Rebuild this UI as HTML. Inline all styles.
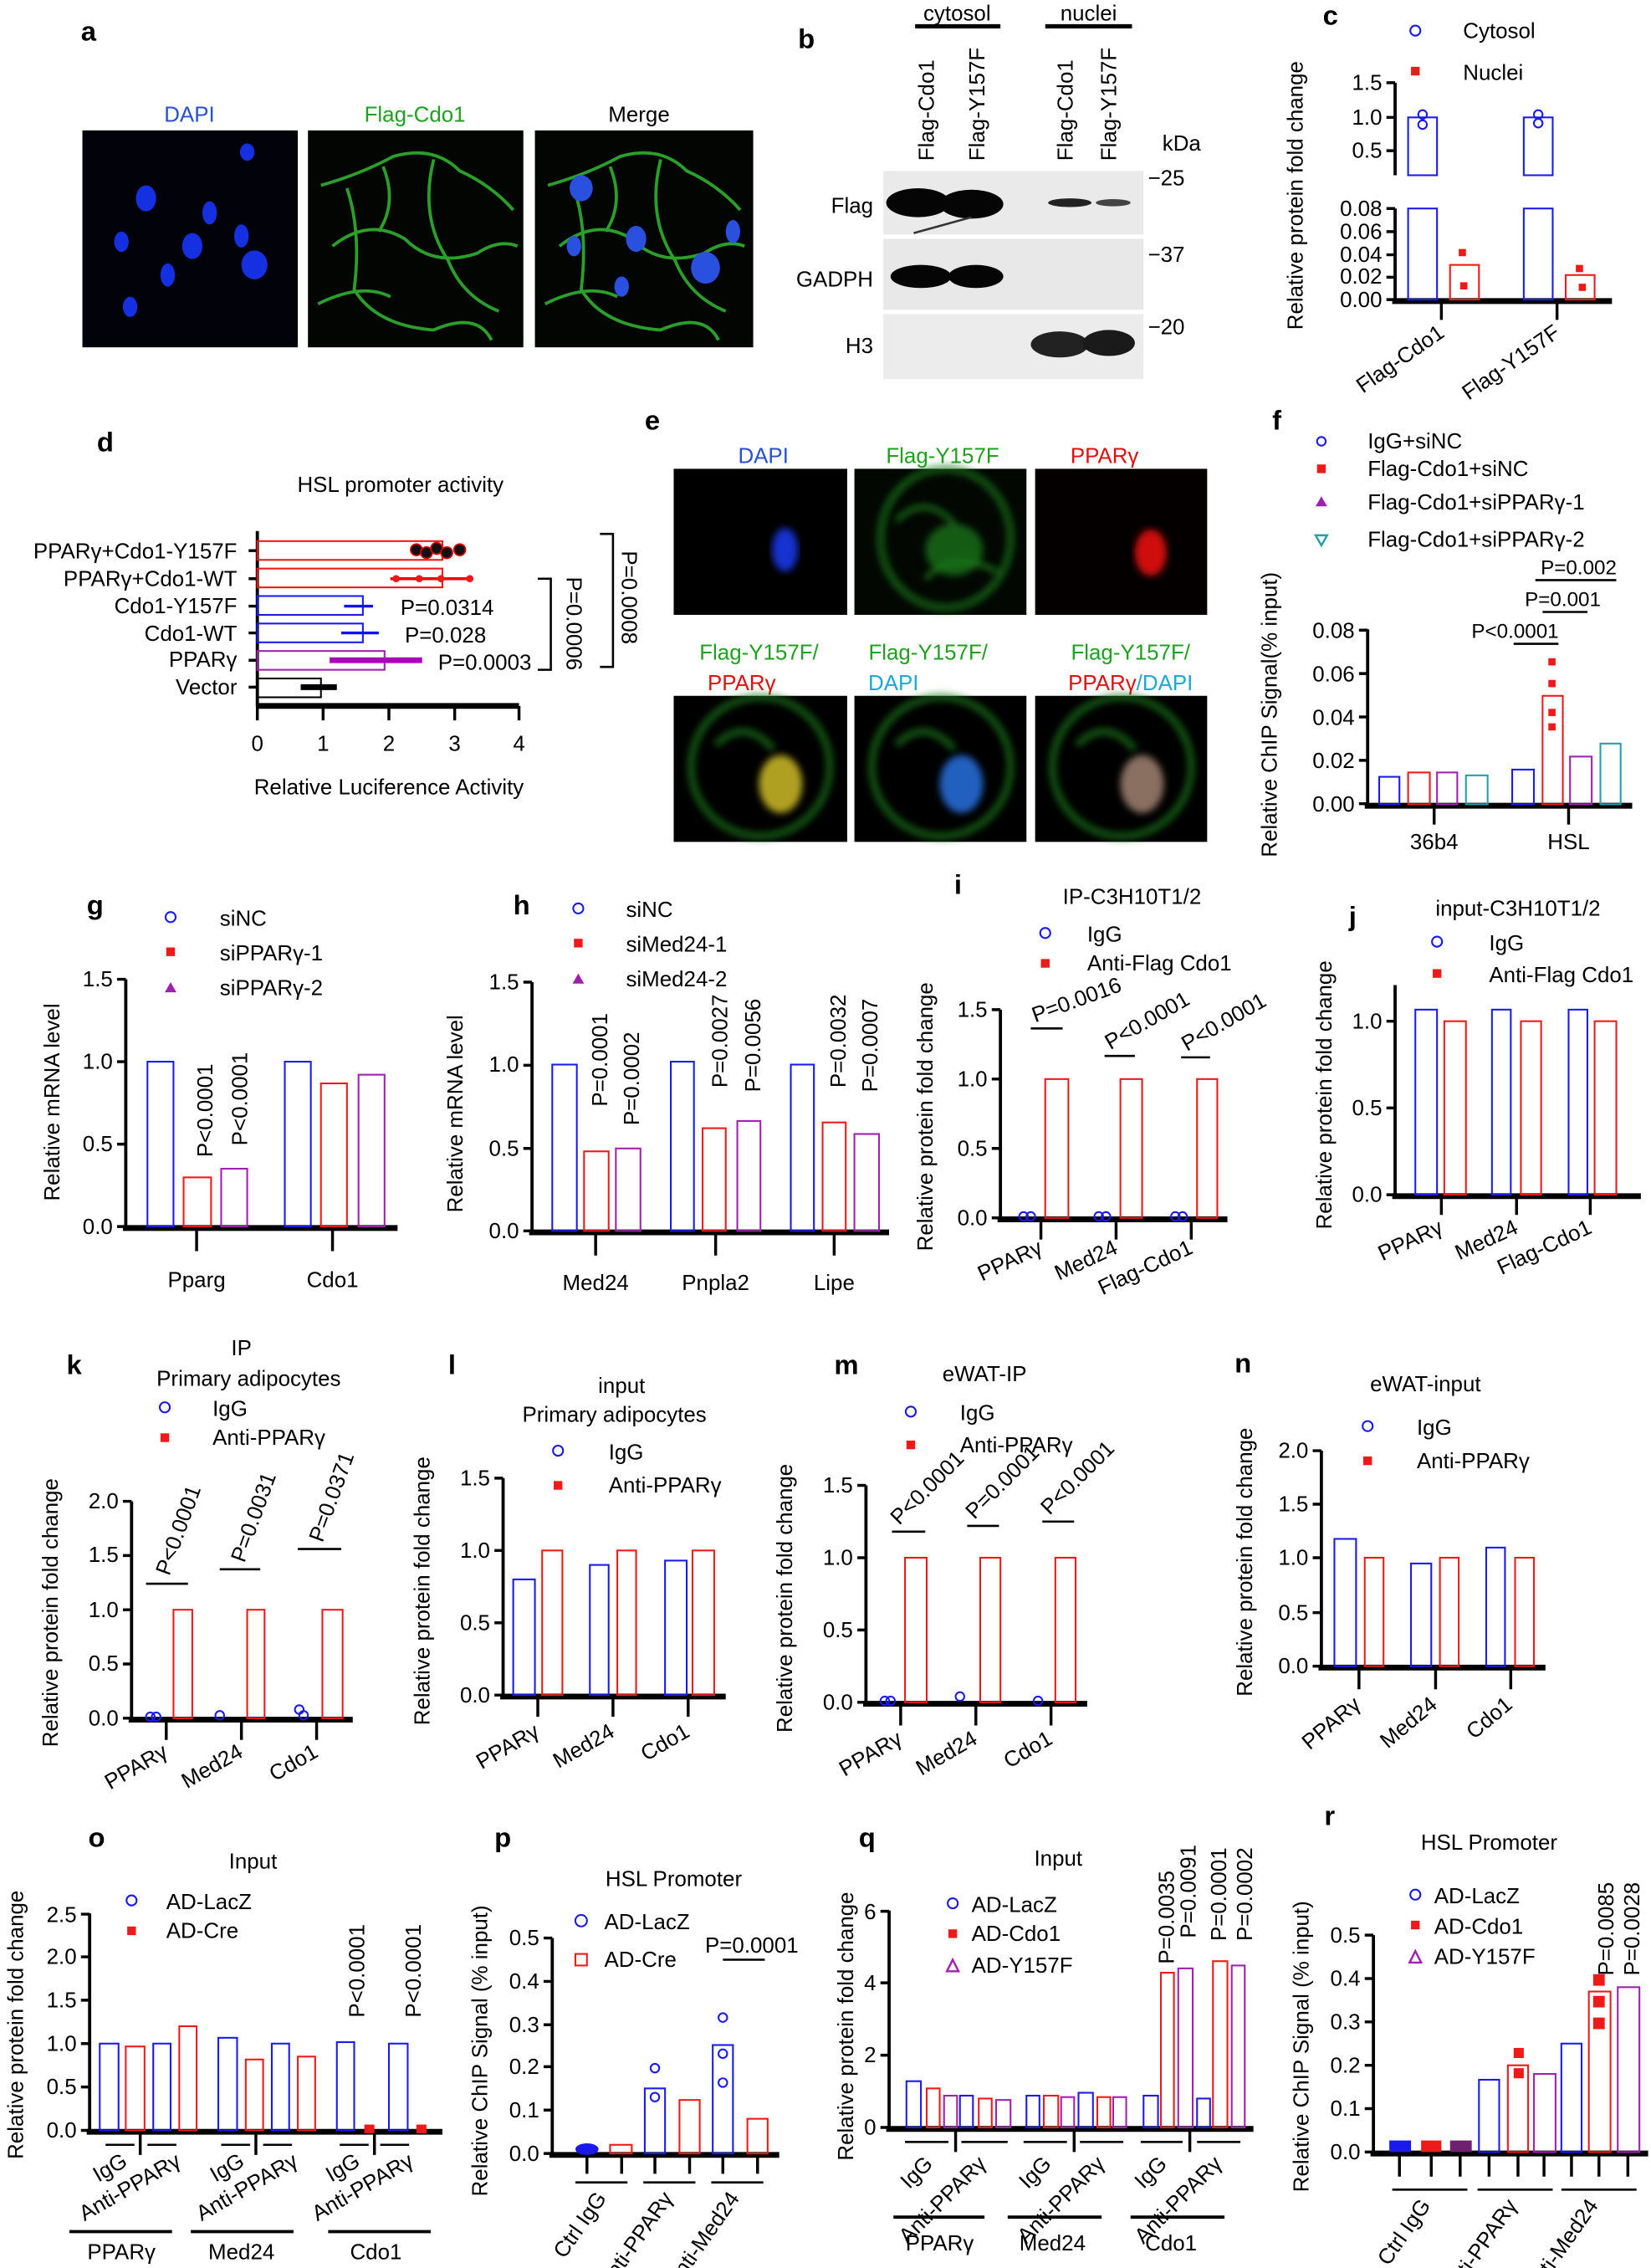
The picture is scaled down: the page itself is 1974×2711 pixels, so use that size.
<!DOCTYPE html>
<html><head><meta charset="utf-8"><style>
html,body{margin:0;padding:0;background:#fff}
svg{display:block}
text{font-family:"Liberation Sans Narrow","Liberation Sans",Arial,sans-serif;font-size:15px;fill:#000}
.L{font-weight:bold;font-size:19px;font-family:"Liberation Sans",Arial,sans-serif}
.t{font-size:14px}
.bl{fill:none;stroke:#1a1aee;stroke-width:1.2}
.rd{fill:none;stroke:#ee1a1a;stroke-width:1.2}
.pu{fill:none;stroke:#a020b0;stroke-width:1.2}
.te{fill:none;stroke:#20a0a8;stroke-width:1.2}
.bk{fill:none;stroke:#000;stroke-width:1.2}
.ax{stroke:#000;stroke-width:2.2;fill:none}
.axb{stroke:#000;stroke-width:4;fill:none}
.tk{stroke:#000;stroke-width:2}
.ln{stroke:#000;stroke-width:1.5}
.cb{fill:#1a1aee}.cr{fill:#ee1a1a}.cp{fill:#a020b0}
</style></head><body>
<svg width="1974" height="2711" viewBox="0 0 1142 1568" xmlns="http://www.w3.org/2000/svg">
<defs><filter id="bl2"><feGaussianBlur stdDeviation="2.5"/></filter></defs>

<!-- ===== a ===== -->
<text class="L" x="56" y="28">a</text>
<text x="131" y="84" text-anchor="middle" style="fill:#2850d0">DAPI</text>
<text x="287" y="84" text-anchor="middle" style="fill:#20a020">Flag-Cdo1</text>
<text x="442" y="84" text-anchor="middle">Merge</text>
<rect x="57" y="90" width="149" height="150" fill="#02020a"/>
<rect x="213" y="90" width="149" height="150" fill="#020502"/>
<rect x="370" y="90" width="151" height="150" fill="#020502"/>
<g fill="#1530e0">
<ellipse cx="101" cy="137" rx="7" ry="9"/><ellipse cx="145" cy="147" rx="5" ry="8"/><ellipse cx="133" cy="170" rx="7" ry="9"/>
<ellipse cx="84" cy="167" rx="5" ry="7"/><ellipse cx="176" cy="183" rx="9" ry="10"/><ellipse cx="116" cy="190" rx="5" ry="8"/>
<ellipse cx="171" cy="105" rx="5" ry="6"/><ellipse cx="90" cy="212" rx="5" ry="7"/><ellipse cx="167" cy="163" rx="5" ry="8"/></g>
<g stroke="#2fb02f" stroke-width="2.2" fill="none" opacity=".9">
<path d="M222 128 Q250 120 272 108 Q300 100 318 118 Q340 128 355 145"/><path d="M230 170 Q255 150 280 165 Q300 185 330 175 Q345 165 358 170"/>
<path d="M240 130 Q250 160 245 200 Q260 225 300 228 Q330 215 340 235"/><path d="M300 110 Q290 150 310 180 Q320 205 345 215"/>
<path d="M220 210 Q250 195 270 205"/><path d="M265 115 Q275 140 262 160"/></g>
<g stroke="#2fb02f" stroke-width="2.2" fill="none" opacity=".9" transform="translate(157 0)">
<path d="M222 128 Q250 120 272 108 Q300 100 318 118 Q340 128 355 145"/><path d="M230 170 Q255 150 280 165 Q300 185 330 175 Q345 165 358 170"/>
<path d="M240 130 Q250 160 245 200 Q260 225 300 228 Q330 215 340 235"/><path d="M300 110 Q290 150 310 180 Q320 205 345 215"/>
<path d="M220 210 Q250 195 270 205"/><path d="M265 115 Q275 140 262 160"/></g>
<g fill="#2a50e0"><ellipse cx="402" cy="130" rx="8" ry="9"/><ellipse cx="440" cy="165" rx="7" ry="9"/><ellipse cx="488" cy="185" rx="10" ry="11"/><ellipse cx="397" cy="170" rx="5" ry="7"/><ellipse cx="430" cy="198" rx="5" ry="7"/><ellipse cx="507" cy="160" rx="5" ry="8"/></g>

<!-- ===== b ===== -->
<text class="L" x="552" y="33">b</text>
<text x="662" y="14" text-anchor="middle">cytosol</text>
<text x="753" y="14" text-anchor="middle">nuclei</text>
<line x1="633" y1="18" x2="692" y2="18" stroke="#000" stroke-width="3"/>
<line x1="723" y1="18" x2="783" y2="18" stroke="#000" stroke-width="3"/>
<text transform="translate(646 111) rotate(-90)">Flag-Cdo1</text>
<text transform="translate(681 111) rotate(-90)">Flag-Y157F</text>
<text transform="translate(742 111) rotate(-90)">Flag-Cdo1</text>
<text transform="translate(772 111) rotate(-90)">Flag-Y157F</text>
<text x="804" y="104">kDa</text>
<rect x="611" y="118" width="180" height="44" fill="#eaeaea"/>
<rect x="611" y="165" width="180" height="49" fill="#e8e8e8"/>
<rect x="611" y="217" width="180" height="45" fill="#ececec"/>
<ellipse cx="635" cy="140" rx="22" ry="10" fill="#050505"/><ellipse cx="672" cy="141" rx="22" ry="10" fill="#050505"/>
<ellipse cx="740" cy="140" rx="15" ry="3" fill="#222"/><ellipse cx="770" cy="140" rx="12" ry="2.5" fill="#444"/>
<path d="M632 161 L672 150" stroke="#333" stroke-width="1.5"/>
<ellipse cx="637" cy="191" rx="21" ry="8" fill="#050505"/><ellipse cx="675" cy="191" rx="19" ry="8" fill="#050505"/>
<ellipse cx="733" cy="238" rx="20" ry="9" fill="#222"/><ellipse cx="767" cy="237" rx="18" ry="9" fill="#1a1a1a"/>
<text x="604" y="147" text-anchor="end">Flag</text>
<text x="604" y="198" text-anchor="end">GADPH</text>
<text x="604" y="244" text-anchor="end">H3</text>
<text x="794" y="128">−25</text><text x="794" y="181">−37</text><text x="794" y="231">−20</text>

<!-- ===== c ===== -->
<text class="L" x="915" y="17">c</text>
<circle cx="979" cy="21" r="3.5" class="bl" stroke-width="1.8"/><text x="1012" y="26">Cytosol</text>
<rect x="976" y="46" width="6" height="6" class="cr"/><text x="1012" y="55">Nuclei</text>
<text transform="translate(901 135) rotate(-90)" text-anchor="middle">Relative protein fold change</text>
<path class="ax" d="M965 57 V121 M965 144 V207"/>
<path class="tk" d="M959 57H965M959 81H965M959 104H965M959 144H965M959 160H965M959 176H965M959 191.5H965M959 207H965"/>
<g class="t" text-anchor="end"><text x="956" y="62">1.5</text><text x="956" y="86">1.0</text><text x="956" y="109">0.5</text>
<text x="956" y="149">0.08</text><text x="956" y="165">0.06</text><text x="956" y="181">0.04</text><text x="956" y="196">0.02</text><text x="956" y="212">0.00</text></g>
<line class="axb" x1="963" y1="208" x2="1115" y2="208"/>
<rect class="bl" x="974" y="81" width="20" height="40"/><rect class="bl" x="974" y="144" width="20" height="63"/>
<rect class="bl" x="1054" y="81" width="20" height="40"/><rect class="bl" x="1054" y="144" width="20" height="63"/>
<rect class="rd" x="1003" y="183" width="20" height="24"/><rect class="rd" x="1083" y="190" width="20" height="17"/>
<circle cx="984" cy="79" r="3" class="bl"/><circle cx="984" cy="86" r="3" class="bl"/><circle cx="1064" cy="79" r="3" class="bl"/><circle cx="1064" cy="85" r="3" class="bl"/>
<rect x="1009" y="172" width="5" height="5" class="cr"/><rect x="1010" y="195" width="5" height="5" class="cr"/><rect x="1090" y="183" width="5" height="5" class="cr"/><rect x="1092" y="196" width="5" height="5" class="cr"/>
<path class="tk" d="M997 208V221M1077 208V221"/>
<text transform="translate(1000 232) rotate(-35)" text-anchor="end">Flag-Cdo1</text>
<text transform="translate(1080 232) rotate(-35)" text-anchor="end">Flag-Y157F</text>

<!-- ===== d ===== -->
<text class="L" x="67" y="312">d</text>
<text x="277" y="340" text-anchor="middle">HSL promoter activity</text>
<line class="ax" x1="178" y1="367" x2="178" y2="488"/>
<g text-anchor="end"><text x="164" y="386">PPARγ+Cdo1-Y157F</text><text x="164" y="405">PPARγ+Cdo1-WT</text><text x="164" y="424">Cdo1-Y157F</text>
<text x="164" y="443">Cdo1-WT</text><text x="164" y="461">PPARγ</text><text x="164" y="480">Vector</text></g>
<path class="tk" d="M172 380.6H178M172 400H178M172 419H178M172 437.5H178M172 456.4H178M172 475H178"/>
<rect class="rd" x="178" y="374" width="128" height="13"/><rect class="rd" x="178" y="393" width="128" height="13"/>
<rect class="bl" x="178" y="412" width="73" height="13"/><rect class="bl" x="178" y="431" width="73" height="13"/>
<rect class="pu" x="178" y="450" width="88" height="13"/><rect class="bk" x="178" y="469" width="44" height="13"/>
<g fill="#111" stroke="#d00" stroke-width="1"><circle cx="288" cy="380" r="4"/><circle cx="295" cy="382" r="4"/><circle cx="302" cy="379" r="4"/><circle cx="309" cy="382" r="4"/><circle cx="318" cy="380" r="4"/></g>
<line x1="270" y1="400" x2="326" y2="400" stroke="#e00" stroke-width="2"/><g class="cr"><circle cx="274" cy="400" r="2.5"/><circle cx="290" cy="400" r="2.5"/><circle cx="305" cy="400" r="2.5"/><circle cx="325" cy="400" r="2.5"/></g>
<line x1="238" y1="419" x2="258" y2="419" stroke="#11e" stroke-width="2"/><line x1="236" y1="437.5" x2="262" y2="437.5" stroke="#11e" stroke-width="2"/>
<line x1="228" y1="456.4" x2="292" y2="456.4" stroke="#a0b" stroke-width="4"/><line x1="208" y1="475" x2="233" y2="475" stroke="#000" stroke-width="4"/>
<text x="277" y="425">P=0.0314</text><text x="280" y="444">P=0.028</text><text x="303" y="463">P=0.0003</text>
<path class="ln" fill="none" d="M372 400H381V463H372M415 369H424V461H415"/>
<text transform="translate(392 431) rotate(90)" text-anchor="middle">P=0.0006</text>
<text transform="translate(430 413) rotate(90)" text-anchor="middle">P=0.0008</text>
<line class="axb" x1="177" y1="488" x2="359" y2="488"/>
<path class="tk" d="M178 488V498M223.5 488V498M269 488V498M314.5 488V498M359 488V498"/>
<g text-anchor="middle"><text x="178" y="519">0</text><text x="223.5" y="519">1</text><text x="269" y="519">2</text><text x="314.5" y="519">3</text><text x="359" y="519">4</text></g>
<text x="269" y="549" text-anchor="middle">Relative Luciference Activity</text>

<!-- ===== e ===== -->
<text class="L" x="446" y="297">e</text>
<text x="528" y="320" text-anchor="middle" style="fill:#2850d0">DAPI</text>
<text x="652" y="320" text-anchor="middle" style="fill:#20a020">Flag-Y157F</text>
<text x="764" y="320" text-anchor="middle" style="fill:#e01010">PPARγ</text>
<rect x="466" y="324" width="120" height="101" fill="#000"/><rect x="591" y="324" width="119" height="101" fill="#020702"/><rect x="716" y="324" width="119" height="101" fill="#050000"/>
<ellipse cx="543" cy="380" rx="9" ry="15" fill="#1530d0" filter="url(#bl2)"/>
<g filter="url(#bl2)"><ellipse cx="654" cy="372" rx="45" ry="48" fill="none" stroke="#1e7a1e" stroke-width="5" opacity=".7"/><ellipse cx="660" cy="380" rx="20" ry="18" fill="#1e801e" opacity=".7"/>
<path d="M620 360 Q640 340 660 362 M640 400 Q660 380 690 395" stroke="#1e7a1e" stroke-width="3" fill="none"/></g>
<ellipse cx="796" cy="382" rx="11" ry="16" fill="#d01010" filter="url(#bl2)"/>
<text x="525" y="456" text-anchor="middle" style="fill:#20a020">Flag-Y157F/</text><text x="513" y="477" text-anchor="middle" style="fill:#e01010">PPARγ</text>
<text x="642" y="456" text-anchor="middle" style="fill:#20a020">Flag-Y157F/</text><text x="618" y="477" text-anchor="middle" style="fill:#20a8d0">DAPI</text>
<text x="782" y="456" text-anchor="middle" style="fill:#20a020">Flag-Y157F/</text><text x="782" y="477" text-anchor="middle"><tspan style="fill:#e01010">PPARγ</tspan><tspan style="fill:#20a8d0">/DAPI</tspan></text>
<rect x="466" y="481" width="120" height="101" fill="#000"/><rect x="591" y="481" width="119" height="101" fill="#000"/><rect x="716" y="481" width="119" height="101" fill="#000"/>
<g fill="none" stroke="#1e7a1e" stroke-width="5" opacity=".7" filter="url(#bl2)"><ellipse cx="526" cy="530" rx="48" ry="48"/><ellipse cx="651" cy="530" rx="48" ry="48"/><ellipse cx="776" cy="530" rx="48" ry="48"/>
<path d="M495 515 Q515 495 535 518 M620 515 Q640 495 660 518 M745 515 Q765 495 785 518"/></g>
<g filter="url(#bl2)"><ellipse cx="540" cy="542" rx="15" ry="20" fill="#b0a020"/><ellipse cx="665" cy="542" rx="15" ry="20" fill="#2060c0"/><ellipse cx="790" cy="542" rx="15" ry="20" fill="#8a7060"/></g>

<!-- ===== f ===== -->
<text class="L" x="880" y="297">f</text>
<circle cx="914" cy="305" r="3" class="bl" stroke-width="1.6"/><text x="946" y="310">IgG+siNC</text>
<rect x="911" y="321" width="6" height="6" class="cr"/><text x="946" y="329">Flag-Cdo1+siNC</text>
<path d="M914 343 L918 350 L910 350Z" class="cp"/><text x="946" y="352">Flag-Cdo1+siPPARγ-1</text>
<path d="M910 370 L918 370 L914 377Z" fill="none" stroke="#20a0a8" stroke-width="1.4"/><text x="946" y="378">Flag-Cdo1+siPPARγ-2</text>
<text transform="translate(883 494) rotate(-90)" text-anchor="middle">Relative ChIP Signal(% input)</text>
<line class="ax" x1="946" y1="435" x2="946" y2="556"/>
<path class="tk" d="M940 435.6H946M940 465.6H946M940 495.6H946M940 525.6H946M940 555.6H946"/>
<g class="t" text-anchor="end"><text x="937" y="441">0.08</text><text x="937" y="471">0.06</text><text x="937" y="501">0.04</text><text x="937" y="531">0.02</text><text x="937" y="561">0.00</text></g>
<line class="axb" x1="944" y1="557" x2="1129" y2="557"/>
<rect class="bl" x="954" y="537" width="14" height="19"/><rect class="rd" x="974" y="534" width="15" height="22"/><rect class="pu" x="994" y="534" width="14" height="22"/><rect class="te" x="1014" y="536" width="15" height="20"/>
<rect class="bl" x="1046" y="532" width="15" height="24"/><rect class="rd" x="1067" y="481" width="14" height="75"/><rect class="pu" x="1086" y="523" width="15" height="33"/><rect class="te" x="1107" y="514" width="14" height="42"/>
<g class="cr"><rect x="1071" y="455" width="5" height="5"/><rect x="1071" y="470" width="5" height="5"/><rect x="1071" y="490" width="5" height="5"/><rect x="1071" y="500" width="5" height="5"/></g>
<path class="tk" d="M992 557V570M1085 557V570"/>
<text x="992" y="587" text-anchor="middle">36b4</text><text x="1085" y="587" text-anchor="middle">HSL</text>
<path class="ln" d="M1047 445H1078M1067 423H1098M1062 401H1118"/>
<text x="1048" y="441" text-anchor="middle" class="t">P&lt;0.0001</text><text x="1081" y="419" text-anchor="middle" class="t">P=0.001</text><text x="1092" y="397" text-anchor="middle" class="t">P=0.002</text>

<!-- ===== g ===== -->
<text class="L" x="60" y="632">g</text>
<circle cx="118" cy="634" r="3.5" class="bl" stroke-width="1.6"/><text x="152" y="640">siNC</text>
<rect x="115" y="655" width="6" height="6" class="cr"/><text x="152" y="664">siPPARγ-1</text>
<path d="M118 679 L122 686 L114 686Z" class="cp"/><text x="152" y="688">siPPARγ-2</text>
<text transform="translate(41 762) rotate(-90)" text-anchor="middle">Relative mRNA level</text>
<line class="ax" x1="87" y1="677" x2="87" y2="849"/>
<path class="tk" d="M81 677H87M81 734H87M81 791H87M81 848H87"/>
<g class="t" text-anchor="end"><text x="78" y="682">1.5</text><text x="78" y="739">1.0</text><text x="78" y="796">0.5</text><text x="78" y="853">0.0</text></g>
<line class="axb" x1="85" y1="849" x2="275" y2="849"/>
<rect class="bl" x="102" y="734" width="18" height="114"/><rect class="rd" x="127" y="814" width="19" height="34"/><rect class="pu" x="153" y="808" width="18" height="40"/>
<rect class="bl" x="197" y="734" width="18" height="114"/><rect class="rd" x="222" y="749" width="18" height="99"/><rect class="pu" x="248" y="743" width="18" height="105"/>
<path class="tk" d="M136 849V865M230 849V865"/>
<text x="136" y="890" text-anchor="middle">Pparg</text><text x="230" y="890" text-anchor="middle">Cdo1</text>
<text transform="translate(147 800) rotate(-90)">P&lt;0.0001</text><text transform="translate(171 792) rotate(-90)">P&lt;0.0001</text>

<!-- ===== h ===== -->
<text class="L" x="355" y="632">h</text>
<circle cx="400" cy="628" r="3.5" class="bl" stroke-width="1.6"/><text x="433" y="634">siNC</text>
<rect x="397" y="649" width="6" height="6" class="cr"/><text x="433" y="658">siMed24-1</text>
<path d="M400 673 L404 680 L396 680Z" class="cp"/><text x="433" y="682">siMed24-2</text>
<text transform="translate(320 770) rotate(-90)" text-anchor="middle">Relative mRNA level</text>
<line class="ax" x1="368" y1="679" x2="368" y2="852"/>
<path class="tk" d="M362 679H368M362 736.5H368M362 794H368M362 851H368"/>
<g class="t" text-anchor="end"><text x="359" y="684">1.5</text><text x="359" y="741">1.0</text><text x="359" y="799">0.5</text><text x="359" y="856">0.0</text></g>
<line class="axb" x1="366" y1="852" x2="615" y2="852"/>
<rect class="bl" x="382" y="736" width="17" height="115"/><rect class="rd" x="404" y="796" width="17" height="55"/><rect class="pu" x="426" y="794" width="17" height="57"/>
<rect class="bl" x="464" y="734" width="16" height="117"/><rect class="rd" x="486" y="780" width="16" height="71"/><rect class="pu" x="510" y="775" width="16" height="76"/>
<rect class="bl" x="547" y="736" width="16" height="115"/><rect class="rd" x="569" y="776" width="16" height="75"/><rect class="pu" x="591" y="784" width="17" height="67"/>
<path class="tk" d="M412 852V868M495 852V868M577 852V868"/>
<text x="412" y="892" text-anchor="middle">Med24</text><text x="495" y="892" text-anchor="middle">Pnpla2</text><text x="577" y="892" text-anchor="middle">Lipe</text>
<g class="t"><text transform="translate(420 765) rotate(-90)">P=0.0001</text><text transform="translate(442 778) rotate(-90)">P=0.0002</text>
<text transform="translate(503 752) rotate(-90)">P=0.0027</text><text transform="translate(526 755) rotate(-90)">P=0.0056</text>
<text transform="translate(585 752) rotate(-90)">P=0.0032</text><text transform="translate(607 755) rotate(-90)">P=0.0007</text></g>

<!-- ===== i ===== -->
<text class="L" x="660" y="618">i</text>
<text x="783" y="625" text-anchor="middle">IP-C3H10T1/2</text>
<circle cx="723" cy="645" r="3.5" class="bl" stroke-width="1.6"/><text x="752" y="651">IgG</text>
<rect x="720" y="663" width="6" height="6" class="cr"/><text x="752" y="671">Anti-Flag Cdo1</text>
<text transform="translate(645 772) rotate(-90)" text-anchor="middle">Relative protein fold change</text>
<line class="ax" x1="692" y1="698" x2="692" y2="843"/>
<path class="tk" d="M686 698H692M686 746H692M686 794H692M686 842H692"/>
<g class="t" text-anchor="end"><text x="683" y="703">1.5</text><text x="683" y="751">1.0</text><text x="683" y="799">0.5</text><text x="683" y="847">0.0</text></g>
<line class="axb" x1="690" y1="843" x2="849" y2="843"/>
<rect class="rd" x="723" y="746" width="16" height="96"/><rect class="rd" x="775" y="746" width="15" height="96"/><rect class="rd" x="828" y="746" width="14" height="96"/>
<g class="bl"><circle cx="708" cy="841" r="3"/><circle cx="713" cy="841" r="3"/><circle cx="760" cy="841" r="3"/><circle cx="765" cy="841" r="3"/><circle cx="813" cy="841" r="3"/><circle cx="818" cy="841" r="3"/></g>
<path class="tk" d="M720 843V857M772 843V857M824 843V857"/>
<path class="ln" d="M713 711H735M764 730H785M817 731H837"/>
<text transform="translate(716 707) rotate(-20)">P=0.0016</text><text transform="translate(768 726) rotate(-30)">P&lt;0.0001</text><text transform="translate(821 727) rotate(-30)">P&lt;0.0001</text>
<text transform="translate(722 866) rotate(-25)" text-anchor="end">PPARγ</text><text transform="translate(774 866) rotate(-25)" text-anchor="end">Med24</text><text transform="translate(826 866) rotate(-25)" text-anchor="end">Flag-Cdo1</text>

<!-- ===== j ===== -->
<text class="L" x="933" y="640">j</text>
<text x="1050" y="633" text-anchor="middle">input-C3H10T1/2</text>
<circle cx="994" cy="651" r="3.5" class="bl" stroke-width="1.6"/><text x="1030" y="657">IgG</text>
<rect x="991" y="670" width="6" height="6" class="cr"/><text x="1030" y="679">Anti-Flag Cdo1</text>
<text transform="translate(921 757) rotate(-90)" text-anchor="middle">Relative protein fold change</text>
<line class="ax" x1="965" y1="681" x2="965" y2="827"/>
<path class="tk" d="M959 706H965M959 766H965M959 826H965"/>
<g class="t" text-anchor="end"><text x="956" y="711">1.0</text><text x="956" y="771">0.5</text><text x="956" y="831">0.0</text></g>
<line class="axb" x1="963" y1="827" x2="1135" y2="827"/>
<rect class="bl" x="979" y="698" width="15" height="128"/><rect class="rd" x="999" y="706" width="15" height="120"/>
<rect class="bl" x="1032" y="698" width="13" height="128"/><rect class="rd" x="1052" y="706" width="14" height="120"/>
<rect class="bl" x="1085" y="698" width="13" height="128"/><rect class="rd" x="1103" y="706" width="15" height="120"/>
<path class="tk" d="M997 827V840M1049 827V840M1100 827V840"/>
<text transform="translate(999 852) rotate(-25)" text-anchor="end">PPARγ</text><text transform="translate(1051 852) rotate(-25)" text-anchor="end">Med24</text><text transform="translate(1102 852) rotate(-25)" text-anchor="end">Flag-Cdo1</text>

<!-- ===== k ===== -->
<text class="L" x="46" y="950">k</text>
<text x="167" y="937" text-anchor="middle">IP</text>
<text x="172" y="958" text-anchor="middle">Primary adipocytes</text>
<circle cx="114" cy="973" r="3.5" class="bl" stroke-width="1.6"/><text x="147" y="979">IgG</text>
<rect x="111" y="991" width="6" height="6" class="cr"/><text x="147" y="999">Anti-PPARγ</text>
<text transform="translate(40 1115) rotate(-90)" text-anchor="middle">Relative protein fold change</text>
<line class="ax" x1="91" y1="1038" x2="91" y2="1189"/>
<path class="tk" d="M85 1038H91M85 1075.5H91M85 1113H91M85 1150.5H91M85 1188H91"/>
<g class="t" text-anchor="end"><text x="82" y="1043">2.0</text><text x="82" y="1080">1.5</text><text x="82" y="1118">1.0</text><text x="82" y="1155">0.5</text><text x="82" y="1193">0.0</text></g>
<line class="axb" x1="89" y1="1189" x2="244" y2="1189"/>
<rect class="rd" x="120" y="1113" width="13" height="75"/><rect class="rd" x="171" y="1113" width="12" height="75"/><rect class="rd" x="223" y="1113" width="14" height="75"/>
<g class="bl"><circle cx="104" cy="1187" r="3"/><circle cx="108" cy="1187" r="3"/><circle cx="152" cy="1186" r="3"/><circle cx="207" cy="1182" r="3"/><circle cx="210" cy="1186" r="3"/></g>
<path class="tk" d="M115 1189V1203M167 1189V1203M219 1189V1203"/>
<path class="ln" d="M101 1095H130M152 1085H180M206 1071H236"/>
<text transform="translate(117 1090) rotate(-70)">P&lt;0.0001</text><text transform="translate(169 1081) rotate(-70)">P=0.0031</text><text transform="translate(223 1067) rotate(-70)">P=0.0371</text>
<text transform="translate(117 1214) rotate(-30)" text-anchor="end">PPARγ</text><text transform="translate(169 1214) rotate(-30)" text-anchor="end">Med24</text><text transform="translate(221 1214) rotate(-30)" text-anchor="end">Cdo1</text>

<!-- ===== l ===== -->
<text class="L" x="310" y="950">l</text>
<text x="430" y="963" text-anchor="middle">input</text>
<text x="425" y="983" text-anchor="middle">Primary adipocytes</text>
<circle cx="386" cy="1003" r="3.5" class="bl" stroke-width="1.6"/><text x="421" y="1009">IgG</text>
<rect x="383" y="1024" width="6" height="6" class="cr"/><text x="421" y="1032">Anti-PPARγ</text>
<text transform="translate(297 1100) rotate(-90)" text-anchor="middle">Relative protein fold change</text>
<line class="ax" x1="348" y1="1022" x2="348" y2="1173"/>
<path class="tk" d="M342 1022H348M342 1072H348M342 1122H348M342 1172H348"/>
<g class="t" text-anchor="end"><text x="339" y="1027">1.5</text><text x="339" y="1077">1.0</text><text x="339" y="1127">0.5</text><text x="339" y="1177">0.0</text></g>
<line class="axb" x1="346" y1="1173" x2="502" y2="1173"/>
<rect class="bl" x="355" y="1092" width="15" height="80"/><rect class="rd" x="375" y="1072" width="14" height="100"/>
<rect class="bl" x="408" y="1082" width="13" height="90"/><rect class="rd" x="427" y="1072" width="13" height="100"/>
<rect class="bl" x="460" y="1079" width="15" height="93"/><rect class="rd" x="479" y="1072" width="15" height="100"/>
<path class="tk" d="M372 1173V1187M424 1173V1187M476 1173V1187"/>
<text transform="translate(374 1200) rotate(-30)" text-anchor="end">PPARγ</text><text transform="translate(426 1200) rotate(-30)" text-anchor="end">Med24</text><text transform="translate(478 1200) rotate(-30)" text-anchor="end">Cdo1</text>

<!-- ===== m ===== -->
<text class="L" x="577" y="950">m</text>
<text x="681" y="955" text-anchor="middle">eWAT-IP</text>
<circle cx="630" cy="976" r="3.5" class="bl" stroke-width="1.6"/><text x="664" y="982">IgG</text>
<rect x="627" y="996" width="6" height="6" class="cr"/><text x="664" y="1004">Anti-PPARγ</text>
<text transform="translate(548 1105) rotate(-90)" text-anchor="middle">Relative protein fold change</text>
<line class="ax" x1="599" y1="1027" x2="599" y2="1178"/>
<path class="tk" d="M593 1027H599M593 1077H599M593 1127H599M593 1177H599"/>
<g class="t" text-anchor="end"><text x="590" y="1032">1.5</text><text x="590" y="1082">1.0</text><text x="590" y="1132">0.5</text><text x="590" y="1182">0.0</text></g>
<line class="axb" x1="597" y1="1178" x2="752" y2="1178"/>
<rect class="rd" x="626" y="1077" width="15" height="100"/><rect class="rd" x="678" y="1077" width="14" height="100"/><rect class="rd" x="730" y="1077" width="14" height="100"/>
<g class="bl"><circle cx="612" cy="1176" r="3"/><circle cx="616" cy="1176" r="3"/><circle cx="664" cy="1173" r="3"/><circle cx="718" cy="1176" r="3"/></g>
<path class="tk" d="M623 1178V1193M675 1178V1193M727 1178V1193"/>
<path class="ln" d="M617 1059H640M669 1055H691M721 1052H743"/>
<text transform="translate(622 1055) rotate(-45)">P&lt;0.0001</text><text transform="translate(674 1051) rotate(-45)">P=0.0001</text><text transform="translate(726 1048) rotate(-45)">P&lt;0.0001</text>
<text transform="translate(625 1205) rotate(-30)" text-anchor="end">PPARγ</text><text transform="translate(677 1205) rotate(-30)" text-anchor="end">Med24</text><text transform="translate(729 1205) rotate(-30)" text-anchor="end">Cdo1</text>

<!-- ===== n ===== -->
<text class="L" x="854" y="949">n</text>
<text x="986" y="962" text-anchor="middle">eWAT-input</text>
<circle cx="946" cy="986" r="3.5" class="bl" stroke-width="1.6"/><text x="980" y="992">IgG</text>
<rect x="943" y="1007" width="6" height="6" class="cr"/><text x="980" y="1015">Anti-PPARγ</text>
<text transform="translate(866 1080) rotate(-90)" text-anchor="middle">Relative protein fold change</text>
<line class="ax" x1="914" y1="1003" x2="914" y2="1153"/>
<path class="tk" d="M908 1003H914M908 1040H914M908 1077H914M908 1115H914M908 1152H914"/>
<g class="t" text-anchor="end"><text x="905" y="1008">2.0</text><text x="905" y="1045">1.5</text><text x="905" y="1082">1.0</text><text x="905" y="1120">0.5</text><text x="905" y="1157">0.0</text></g>
<line class="axb" x1="912" y1="1153" x2="1069" y2="1153"/>
<rect class="bl" x="923" y="1064" width="15" height="88"/><rect class="rd" x="944" y="1077" width="13" height="75"/>
<rect class="bl" x="976" y="1081" width="14" height="71"/><rect class="rd" x="996" y="1077" width="13" height="75"/>
<rect class="bl" x="1028" y="1070" width="13" height="82"/><rect class="rd" x="1048" y="1077" width="13" height="75"/>
<path class="tk" d="M940 1153V1168M993 1153V1168M1045 1153V1168"/>
<text transform="translate(942 1180) rotate(-40)" text-anchor="end">PPARγ</text><text transform="translate(995 1180) rotate(-40)" text-anchor="end">Med24</text><text transform="translate(1047 1180) rotate(-40)" text-anchor="end">Cdo1</text>

<!-- ===== o ===== -->
<text class="L" x="61" y="1277">o</text>
<text x="175" y="1292" text-anchor="middle">Input</text>
<circle cx="91" cy="1314" r="3.5" class="bl" stroke-width="1.6"/><text x="115" y="1320">AD-LacZ</text>
<rect x="88" y="1332" width="6" height="6" class="cr"/><text x="115" y="1340">AD-Cre</text>
<text transform="translate(16 1400) rotate(-90)" text-anchor="middle">Relative protein fold change</text>
<line class="ax" x1="62" y1="1323" x2="62" y2="1474"/>
<path class="tk" d="M56 1323.5H62M56 1353H62M56 1383H62M56 1413H62M56 1443H62M56 1473H62"/>
<g class="t" text-anchor="end"><text x="53" y="1329">2.5</text><text x="53" y="1358">2.0</text><text x="53" y="1388">1.5</text><text x="53" y="1418">1.0</text><text x="53" y="1448">0.5</text><text x="53" y="1478">0.0</text></g>
<line class="axb" x1="60" y1="1474" x2="306" y2="1474"/>
<rect class="bl" x="69" y="1413" width="13" height="60"/><rect class="rd" x="87" y="1415" width="13" height="58"/><rect class="bl" x="106" y="1413" width="12" height="60"/><rect class="rd" x="124" y="1401" width="12" height="72"/>
<rect class="bl" x="151" y="1409" width="13" height="64"/><rect class="rd" x="170" y="1424" width="12" height="49"/><rect class="bl" x="188" y="1413" width="12" height="60"/><rect class="rd" x="206" y="1422" width="12" height="51"/>
<rect class="bl" x="233" y="1412" width="12" height="61"/><rect class="bl" x="269" y="1413" width="13" height="60"/>
<rect x="252" y="1469" width="7" height="6" class="cr"/><rect x="288" y="1469" width="7" height="6" class="cr"/>
<text transform="translate(252 1395) rotate(-90)">P&lt;0.0001</text><text transform="translate(291 1395) rotate(-90)">P&lt;0.0001</text>
<path class="ln" d="M73 1483H93M102 1483H122M153 1483H173M182 1483H202M235 1483H255M263 1483H283"/>
<path class="tk" d="M97 1475V1490M177 1475V1490M259 1475V1490"/>
<text transform="translate(89 1497) rotate(-30)" text-anchor="end">IgG</text><text transform="translate(126 1497) rotate(-30)" text-anchor="end">Anti-PPARγ</text>
<text transform="translate(170 1497) rotate(-30)" text-anchor="end">IgG</text><text transform="translate(207 1497) rotate(-30)" text-anchor="end">Anti-PPARγ</text>
<text transform="translate(250 1497) rotate(-30)" text-anchor="end">IgG</text><text transform="translate(287 1497) rotate(-30)" text-anchor="end">Anti-PPARγ</text>
<path d="M48 1543H119M132 1543H203M227 1543H298" stroke="#000" stroke-width="2.2"/>
<text x="84" y="1562" text-anchor="middle">PPARγ</text><text x="167" y="1562" text-anchor="middle">Med24</text><text x="260" y="1562" text-anchor="middle">Cdo1</text>

<!-- ===== p ===== -->
<text class="L" x="342" y="1277">p</text>
<text x="466" y="1304" text-anchor="middle">HSL Promoter</text>
<circle cx="402" cy="1328" r="4" class="bl" stroke-width="2"/><text x="418" y="1334">AD-LacZ</text>
<rect x="398" y="1351" width="8" height="8" class="rd" stroke-width="2"/><text x="418" y="1360">AD-Cre</text>
<text x="520" y="1350" text-anchor="middle">P=0.0001</text><path class="ln" d="M500 1355H529"/>
<text transform="translate(337 1418) rotate(-90)" text-anchor="middle">Relative ChIP Signal (% input)</text>
<line class="ax" x1="382" y1="1340" x2="382" y2="1490"/>
<path class="tk" d="M376 1340H382M376 1370H382M376 1400H382M376 1429H382M376 1459H382M376 1489H382"/>
<g class="t" text-anchor="end"><text x="373" y="1345">0.5</text><text x="373" y="1375">0.4</text><text x="373" y="1405">0.3</text><text x="373" y="1434">0.2</text><text x="373" y="1464">0.1</text><text x="373" y="1494">0.0</text></g>
<line class="axb" x1="380" y1="1490" x2="539" y2="1490"/>
<ellipse cx="406" cy="1486" rx="8" ry="4" class="cb"/><rect class="rd" x="422" y="1483" width="15" height="6"/>
<rect class="bl" x="446" y="1444" width="14" height="45"/><rect class="rd" x="470" y="1452" width="14" height="37"/>
<rect class="bl" x="493" y="1414" width="14" height="75"/><rect class="rd" x="517" y="1465" width="14" height="24"/>
<g class="bl"><circle cx="453" cy="1430" r="3"/><circle cx="453" cy="1450" r="3"/><circle cx="500" cy="1395" r="3"/><circle cx="500" cy="1420" r="3"/><circle cx="500" cy="1440" r="3"/></g>
<path class="tk" d="M406 1491V1503M430 1491V1503M453 1491V1503M477 1491V1503M500 1491V1503M524 1491V1503"/>
<path class="ln" d="M398 1509H434M445 1509H481M492 1509H528"/>
<text transform="translate(420 1520) rotate(-55)" text-anchor="end">Ctrl IgG</text><text transform="translate(466 1520) rotate(-55)" text-anchor="end">Anti-PPARγ</text><text transform="translate(512 1520) rotate(-55)" text-anchor="end">Anti-Med24</text>

<!-- ===== q ===== -->
<text class="L" x="594" y="1277">q</text>
<text x="732" y="1290" text-anchor="middle">Input</text>
<circle cx="659" cy="1316" r="3.5" class="bl" stroke-width="1.6"/><text x="672" y="1322">AD-LacZ</text>
<rect x="656" y="1334" width="6" height="6" class="cr"/><text x="672" y="1342">AD-Cdo1</text>
<path d="M659 1355 L663 1363 L655 1363Z" fill="none" stroke="#a020b0" stroke-width="1.4"/><text x="672" y="1364">AD-Y157F</text>
<text transform="translate(590 1401) rotate(-90)" text-anchor="middle">Relative protein fold change</text>
<line class="ax" x1="615" y1="1321" x2="615" y2="1472"/>
<path class="tk" d="M609 1321.5H615M609 1371H615M609 1421H615M609 1471H615"/>
<g class="t" text-anchor="end"><text x="606" y="1327">6</text><text x="606" y="1376">4</text><text x="606" y="1426">2</text><text x="606" y="1476">0</text></g>
<line class="axb" x1="613" y1="1472" x2="867" y2="1472"/>
<rect class="bl" x="627" y="1439" width="10" height="32"/><rect class="rd" x="641" y="1444" width="9" height="27"/><rect class="pu" x="653" y="1449" width="9" height="22"/>
<rect class="bl" x="664" y="1449" width="9" height="22"/><rect class="rd" x="677" y="1451" width="9" height="20"/><rect class="pu" x="689" y="1452" width="10" height="19"/>
<rect class="bl" x="710" y="1449" width="9" height="22"/><rect class="rd" x="722" y="1449" width="10" height="22"/><rect class="pu" x="734" y="1450" width="9" height="21"/>
<rect class="bl" x="746" y="1447" width="10" height="24"/><rect class="rd" x="759" y="1450" width="9" height="21"/><rect class="pu" x="770" y="1450" width="9" height="21"/>
<rect class="bl" x="791" y="1449" width="10" height="22"/><rect class="rd" x="803" y="1364" width="9" height="107"/><rect class="pu" x="815" y="1361" width="10" height="110"/>
<rect class="bl" x="828" y="1451" width="9" height="20"/><rect class="rd" x="839" y="1356" width="10" height="115"/><rect class="pu" x="852" y="1359" width="9" height="112"/>
<g class="t"><text transform="translate(812 1358) rotate(-90)">P=0.0035</text><text transform="translate(827 1340) rotate(-90)">P=0.0091</text><text transform="translate(848 1342) rotate(-90)">P=0.0001</text><text transform="translate(866 1342) rotate(-90)">P=0.0002</text></g>
<path class="ln" d="M626 1481H656M665 1481H697M708 1481H738M747 1481H777M789 1481H818M828 1481H858"/>
<path class="tk" d="M661 1472V1488M743 1472V1488M823 1472V1488"/>
<text transform="translate(646 1497) rotate(-45)" text-anchor="end">IgG</text><text transform="translate(683 1497) rotate(-45)" text-anchor="end">Anti-PPARγ</text>
<text transform="translate(728 1497) rotate(-45)" text-anchor="end">IgG</text><text transform="translate(765 1497) rotate(-45)" text-anchor="end">Anti-PPARγ</text>
<text transform="translate(808 1497) rotate(-45)" text-anchor="end">IgG</text><text transform="translate(846 1497) rotate(-45)" text-anchor="end">Anti-PPARγ</text>
<path d="M618 1533H681M697 1533H762M782 1533H847" stroke="#000" stroke-width="2.2"/>
<text x="650" y="1556" text-anchor="middle">PPARγ</text><text x="728" y="1556" text-anchor="middle">Med24</text><text x="810" y="1556" text-anchor="middle">Cdo1</text>

<!-- ===== r ===== -->
<text class="L" x="916" y="1262">r</text>
<text x="1030" y="1279" text-anchor="middle">HSL Promoter</text>
<circle cx="979" cy="1310" r="3.5" class="bl" stroke-width="1.6"/><text x="992" y="1316">AD-LacZ</text>
<rect x="976" y="1328" width="6" height="6" class="cr"/><text x="992" y="1337">AD-Cdo1</text>
<path d="M979 1349 L983 1357 L975 1357Z" fill="none" stroke="#a020b0" stroke-width="1.4"/><text x="992" y="1358">AD-Y157F</text>
<text transform="translate(905 1415) rotate(-90)" text-anchor="middle">Relative ChIP Signal (% input)</text>
<line class="ax" x1="950" y1="1338" x2="950" y2="1489"/>
<path class="tk" d="M944 1338H950M944 1368H950M944 1398H950M944 1428H950M944 1458H950M944 1488H950"/>
<g class="t" text-anchor="end"><text x="941" y="1343">0.5</text><text x="941" y="1373">0.4</text><text x="941" y="1403">0.3</text><text x="941" y="1433">0.2</text><text x="941" y="1463">0.1</text><text x="941" y="1493">0.0</text></g>
<line class="axb" x1="948" y1="1489" x2="1140" y2="1489"/>
<rect x="961" y="1480" width="15" height="8" class="cb"/><rect x="983" y="1480" width="14" height="8" class="cr"/><rect x="1003" y="1480" width="15" height="8" fill="#702070"/>
<rect class="bl" x="1023" y="1438" width="14" height="50"/><rect class="rd" x="1043" y="1428" width="14" height="60"/><rect class="pu" x="1061" y="1434" width="15" height="54"/>
<rect class="bl" x="1080" y="1413" width="14" height="75"/><rect class="rd" x="1099" y="1377" width="15" height="111"/><rect class="pu" x="1119" y="1374" width="15" height="114"/>
<g class="cr"><rect x="1102" y="1365" width="8" height="8"/><rect x="1102" y="1380" width="8" height="8"/><rect x="1102" y="1395" width="8" height="8"/><rect x="1047" y="1416" width="7" height="7"/><rect x="1047" y="1430" width="7" height="7"/></g>
<g class="t"><text transform="translate(1116 1366) rotate(-90)">P=0.0085</text><text transform="translate(1134 1366) rotate(-90)">P=0.0028</text></g>
<path class="tk" d="M968 1490V1505M990 1490V1505M1010 1490V1505M1030 1490V1505M1050 1490V1505M1068 1490V1505M1087 1490V1505M1106 1490V1505M1126 1490V1505"/>
<path class="ln" d="M963 1514H1015M1022 1514H1074M1080 1514H1132"/>
<text transform="translate(990 1525) rotate(-55)" text-anchor="end">Ctrl IgG</text><text transform="translate(1050 1525) rotate(-55)" text-anchor="end">Anti-PPARγ</text><text transform="translate(1106 1525) rotate(-55)" text-anchor="end">Anti-Med24</text>
</svg>
</body></html>
